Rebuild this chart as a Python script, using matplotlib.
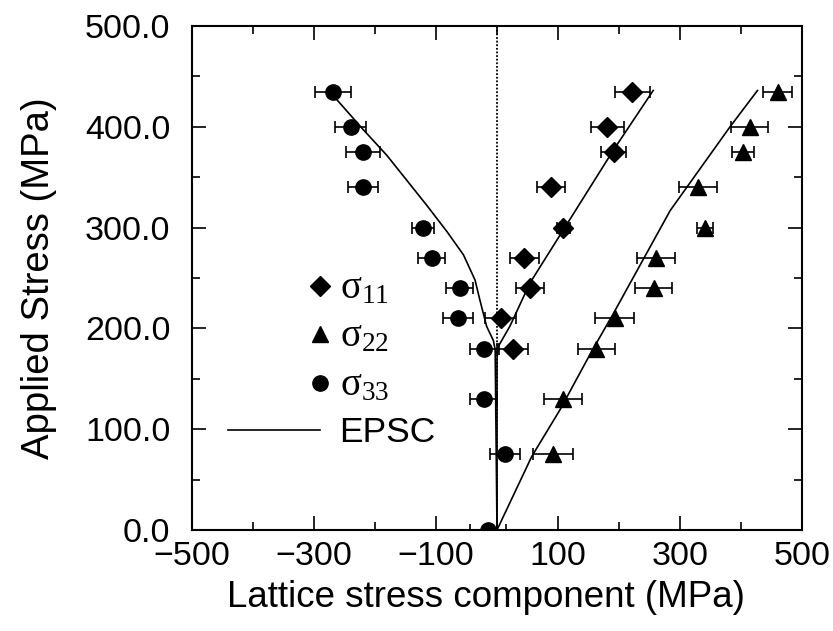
import numpy as np
import matplotlib
matplotlib.use("Agg")
import matplotlib.pyplot as plt
from matplotlib.lines import Line2D
from matplotlib.legend_handler import HandlerLine2DCompound
from matplotlib.ticker import MultipleLocator, FixedLocator, FormatStrFormatter

# ---------------- data ----------------
applied_11 = [180, 210, 240, 270, 300, 340, 375, 400, 435]
lattice_11 = [27, 6, 54, 45, 109, 88, 191, 181, 222]
err_11 = [23, 25, 23, 24, 11, 23, 21, 27, 29]

applied_22 = [75, 130, 180, 210, 240, 270, 300, 340, 375, 400, 435]
lattice_22 = [92, 108, 163, 193, 257, 260, 341, 330, 404, 414, 460]
err_22 = [33, 31, 31, 32, 30, 31, 13, 31, 18, 31, 24]

applied_33 = [0, 75, 130, 180, 210, 240, 270, 300, 340, 375, 400, 435]
lattice_33 = [-15, 13, -22, -22, -64, -61, -107, -121, -220, -219, -240, -269]
err_33 = [30, 24, 22, 22, 25, 22, 22, 18, 25, 28, 25, 29]

# EPSC model curves (lattice stress, applied stress)
epsc11_x = [0, 0, 2, 21, 54, 109, 191, 256]
epsc11_y = [0, 170, 182, 202, 245, 298, 377, 436]
epsc22_x = [0, 57, 103, 155, 191, 284, 382, 427]
epsc22_y = [0, 73, 119, 177, 215, 317, 400, 436]
epsc33_x = [0, -3, -6, -17, -28, -36, -55, -82, -115, -148, -181, -219, -270]
epsc33_y = [0, 179, 188, 202, 228, 248, 273, 296, 322, 347, 372, 397, 432]

x_ticks = [-500, -300, -100, 100, 300, 500]
y_ticks = [0, 100, 200, 300, 400, 500]

labels = [r"$\mathregular{\sigma_{11}}$", r"$\mathregular{\sigma_{22}}$",
          r"$\mathregular{\sigma_{33}}$", "EPSC"]

# ---------------- plot ----------------
plt.rcParams['font.family'] = ['Liberation Sans', 'DejaVu Sans']

fig = plt.figure(figsize=(8.33, 6.31), dpi=100)
ax = fig.add_axes([192/833, 1 - 530/631, 610/833, 504/631])

ax.axvline(0, color='k', lw=1.3, ls=(0, (1.0, 1.0)))

ax.plot(epsc11_x, epsc11_y, color='k', lw=1.2)
ax.plot(epsc22_x, epsc22_y, color='k', lw=1.2)
ax.plot(epsc33_x, epsc33_y, color='k', lw=1.2)

ekw = dict(color='k', ls='none', elinewidth=1.2, capsize=4.2, capthick=1.2)
ax.errorbar(lattice_11, applied_11, xerr=err_11, marker='D', ms=10.5, **ekw)
ax.errorbar(lattice_22, applied_22, xerr=err_22, marker='^', ms=12, **ekw)
ax.errorbar(lattice_33, applied_33, xerr=err_33, marker='o', ms=11, **ekw)

ax.set_xlim(-500, 500)
ax.set_ylim(0, 500)
ax.xaxis.set_major_locator(FixedLocator(x_ticks))
ax.xaxis.set_minor_locator(MultipleLocator(100))
ax.yaxis.set_major_locator(FixedLocator(y_ticks))
ax.yaxis.set_minor_locator(MultipleLocator(50))
ax.yaxis.set_major_formatter(FormatStrFormatter('%.1f'))

ax.tick_params(which='both', direction='in', top=True, right=True, width=1.2,
               labelsize=24.5)
ax.tick_params(which='major', length=10)
ax.tick_params(which='minor', length=6)
ax.tick_params(axis='y', pad=15.5)
ax.tick_params(axis='x', pad=8)
for s in ax.spines.values():
    s.set_linewidth(1.5)

ax.set_xlabel("Lattice stress component (MPa)", fontsize=26.5, labelpad=6)
ax.xaxis.label.set_x((486 - 192) / 610)
ax.set_ylabel("Applied Stress (MPa)", fontsize=27.5, labelpad=20)


class EndMarkerHandler(HandlerLine2DCompound):
    def get_xdata(self, legend, xdescent, ydescent, width, height, fontsize):
        xdata = np.array([-xdescent, -xdescent + width])
        return xdata, np.array([-xdescent + width])


handles = [
    Line2D([], [], ls='none', marker='D', ms=10.5, color='k'),
    Line2D([], [], ls='none', marker='^', ms=12, color='k'),
    Line2D([], [], ls='none', marker='o', ms=11, color='k'),
    Line2D([], [], color='k', lw=1.2),
]
leg = ax.legend(handles, labels, loc='upper left',
                bbox_to_anchor=((228 - 192) / 610, (530 - 270) / 504),
                frameon=False, borderpad=0, borderaxespad=0,
                handlelength=2.6, handletextpad=0.55, labelspacing=0.33,
                fontsize=25.5,
                handler_map={h: EndMarkerHandler() for h in handles})
for t in leg.get_texts()[:3]:
    t.set_family('Liberation Serif')
    t.set_fontsize(28)
leg.get_texts()[3].set_fontsize(25.5)

fig.savefig("out.png", dpi=100)
